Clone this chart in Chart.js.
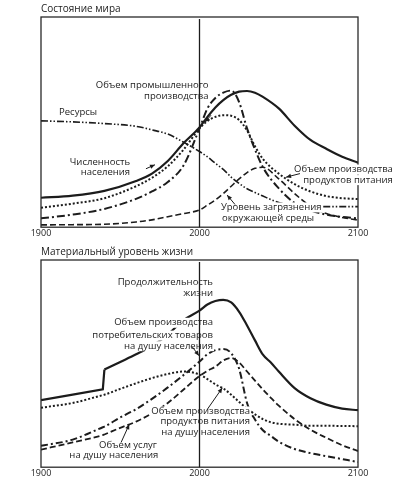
<!DOCTYPE html>
<html>
<head>
<meta charset="utf-8">
<script src="https://cdn.jsdelivr.net/npm/chart.js@4/dist/chart.umd.min.js"></script>
<style>
  body { margin: 0; background: #fff; }
  .box { position: relative; width: 398px; }
</style>
</head>
<body>
<div class="box" style="height:243px"><canvas id="worldChart"></canvas></div>
<div class="box" style="height:247px"><canvas id="livingChart"></canvas></div>
<script>
// upper panel: state of the world (relative scale 0..100)
const yearsWorld = [1900, 1920, 1940, 1960, 1970, 1980, 1990, 2000, 2005, 2010, 2015, 2020, 2025, 2030, 2035, 2040, 2050, 2060, 2070, 2080, 2090, 2100];
const population = [14.0, 15.0, 17.3, 22.0, 25.5, 31.5, 40.0, 47.5, 52.5, 57.0, 60.5, 63.0, 64.5, 64.8, 64.0, 62.0, 56.5, 48.3, 41.5, 37.3, 33.5, 30.7];
const industrialOutput = [4.2, 6.0, 8.7, 13.5, 17.0, 21.5, 29.5, 47.0, 56.5, 61.5, 64.0, 65.0, 59.5, 47.0, 37.0, 28.5, 18.5, 11.5, 8.0, 6.0, 4.9, 4.2];
const foodOutput = [9.3, 11.2, 13.8, 19.5, 23.5, 29.0, 37.0, 47.0, 50.5, 52.5, 53.3, 53.0, 51.0, 46.0, 38.5, 32.5, 25.5, 20.5, 17.0, 14.8, 13.8, 13.4];
const resources = [50.6, 50.1, 49.3, 48.0, 46.3, 44.3, 40.4, 36.0, 33.5, 30.4, 27.5, 23.8, 20.8, 18.3, 16.5, 14.8, 11.8, 10.4, 10.0, 9.8, 9.8, 9.8];
const pollution = [1.1, 1.2, 1.4, 2.5, 3.5, 5.0, 6.5, 8.2, 10.5, 13.0, 16.0, 19.5, 23.0, 26.0, 28.0, 28.5, 23.0, 16.0, 10.0, 6.5, 4.6, 3.4];

// lower panel: material standard of living
const yearsLiving = [1900, 1920, 1939, 1940, 1950, 1960, 1970, 1980, 1990, 2000, 2005, 2010, 2015, 2020, 2025, 2030, 2035, 2040, 2045, 2050, 2060, 2070, 2080, 2090, 2100];
const lifeExpectancy = [32.4, 35.0, 37.6, 47.1, 50.8, 54.5, 58.5, 64.0, 71.0, 75.6, 78.5, 80.2, 80.8, 79.5, 75.0, 68.4, 61.2, 54.3, 50.5, 46.2, 38.2, 33.3, 30.2, 28.3, 27.5];
const goodsPerCapita = [10.3, 13.3, 19.3, 19.6, 24.0, 28.0, 33.0, 38.5, 44.5, 51.0, 54.5, 56.5, 57.0, 55.0, 47.5, 31.0, 23.0, 17.8, 15.1, 12.3, 8.8, 6.8, 5.3, 3.9, 2.5];
const servicesPerCapita = [8.5, 12.0, 15.5, 15.8, 19.0, 22.0, 26.0, 31.0, 37.5, 44.0, 46.5, 48.5, 51.5, 52.7, 50.5, 46.2, 41.8, 37.5, 33.5, 29.7, 23.2, 18.1, 14.2, 10.6, 7.8];
const foodPerCapita = [28.7, 31.0, 34.8, 35.0, 37.8, 40.5, 43.0, 45.0, 46.2, 44.7, 42.5, 40.0, 38.0, 35.0, 31.5, 28.3, 25.5, 23.2, 21.7, 21.0, 20.5, 20.0, 20.0, 19.9, 19.8];

const tickYears = [1900, 2000, 2100];
const markYear = 2000;
const lifeStepIndex = 3; // life expectancy jumps between 1939 and 1940

const ink = '#1c1c1c';
const font = '"Open Sans", "DejaVu Sans", sans-serif';

function series(years, values, dash, width, smooth = true) {
    return {
        data: years.map((x, i) => ({ x: x, y: values[i] })),
        borderColor: ink,
        borderWidth: width,
        borderDash: dash,
        pointRadius: 0,
        fill: false,
        tension: 0,
        cubicInterpolationMode: smooth ? 'monotone' : 'default'
    };
}

// labels and leader arrows, placed in data units
function notesPlugin(labels, arrows) {
    return {
        id: 'notes',
        afterDatasetsDraw(chart) {
            const ctx = chart.ctx;
            const a = chart.chartArea;
            const sx = chart.scales.x, sy = chart.scales.y;
            ctx.save();
            ctx.strokeStyle = '#2a2a2a';
            ctx.lineWidth = 1.3;
            ctx.strokeRect(a.left, a.top, a.right - a.left, a.bottom - a.top);

            ctx.font = '9.5px ' + font;
            ctx.textBaseline = 'middle';
            labels.forEach(l => {
                const x = sx.getPixelForValue(l[1]);
                const y = sy.getPixelForValue(l[2]);
                const w = ctx.measureText(l[0]).width;
                const left = l[3] === 'right' ? x - w : l[3] === 'center' ? x - w / 2 : x;
                ctx.fillStyle = '#fff';
                ctx.fillRect(left - 1, y - 5, w + 2, 10);
                ctx.fillStyle = ink;
                ctx.textAlign = 'left';
                ctx.fillText(l[0], left, y);
            });

            const mx = sx.getPixelForValue(markYear);
            ctx.beginPath();
            ctx.moveTo(mx, a.top + 2);
            ctx.lineTo(mx, a.bottom);
            ctx.strokeStyle = ink;
            ctx.lineWidth = 1.3;
            ctx.stroke();

            arrows.forEach(r => {
                const x1 = sx.getPixelForValue(r[0]), y1 = sy.getPixelForValue(r[1]);
                const x2 = sx.getPixelForValue(r[2]), y2 = sy.getPixelForValue(r[3]);
                const ang = Math.atan2(y2 - y1, x2 - x1);
                ctx.beginPath();
                ctx.moveTo(x1, y1);
                ctx.lineTo(x2, y2);
                ctx.lineWidth = 1;
                ctx.stroke();
                ctx.beginPath();
                ctx.moveTo(x2, y2);
                ctx.lineTo(x2 - 5 * Math.cos(ang) + 2.2 * Math.sin(ang), y2 - 5 * Math.sin(ang) - 2.2 * Math.cos(ang));
                ctx.lineTo(x2 - 5 * Math.cos(ang) - 2.2 * Math.sin(ang), y2 - 5 * Math.sin(ang) + 2.2 * Math.cos(ang));
                ctx.closePath();
                ctx.fillStyle = ink;
                ctx.fill();
            });
            ctx.restore();
        }
    };
}

function baseOptions(title, bottomPad) {
    return {
        responsive: true,
        maintainAspectRatio: false,
        animation: false,
        layout: { padding: { left: 41, right: 40, top: 0, bottom: bottomPad } },
        plugins: {
            legend: { display: false },
            tooltip: { enabled: false },
            title: {
                display: true,
                text: title,
                align: 'start',
                color: ink,
                font: { family: font, size: 10, weight: 'normal' },
                padding: { top: 3, bottom: 2 }
            }
        },
        scales: {
            x: {
                type: 'linear',
                min: 1900,
                max: 2100,
                grid: { display: false, drawTicks: false },
                border: { display: false },
                ticks: {
                    color: ink,
                    font: { family: font, size: 9 },
                    padding: 1,
                    autoSkip: false,
                    maxRotation: 0,
                    callback: v => String(v)
                },
                afterBuildTicks: s => { s.ticks = tickYears.map(v => ({ value: v })); }
            },
            y: { display: false, min: 0, max: 100 }
        }
    };
}

new Chart(document.getElementById('worldChart'), {
    type: 'line',
    data: {
        datasets: [
            series(yearsWorld, pollution, [6, 3], 1.6),
            series(yearsWorld, resources, [7, 2, 1.5, 2, 1.5, 2], 1.6),
            series(yearsWorld, foodOutput, [2, 2], 2),
            series(yearsWorld, industrialOutput, [8, 3, 2, 3], 2),
            series(yearsWorld, population, [], 2.2)
        ]
    },
    options: baseOptions('Состояние мира', 3),
    plugins: [notesPlugin([
        ['Объем промышленного', 2005.7, 67.5, 'right'],
        ['производства', 2005.7, 62.5, 'right'],
        ['Ресурсы', 1911.4, 54.5, 'left'],
        ['Численность', 1956.2, 30.9, 'right'],
        ['населения', 1956.2, 26.2, 'right'],
        ['Объем производства', 2122, 27.4, 'right'],
        ['продуктов питания', 2122, 22.4, 'right'],
        ['Уровень загрязнения', 2013.5, 9.4, 'left'],
        ['окружающей среды', 2014.2, 4.2, 'left']
    ], [
        [2007.3, 53.3, 2003.5, 50.0],
        [1966.2, 27.8, 1971.9, 29.7],
        [2063.4, 25.5, 2054.6, 23.8],
        [2022.4, 10.8, 2017.4, 15.3]
    ])]
});

new Chart(document.getElementById('livingChart'), {
    type: 'line',
    data: {
        datasets: [
            series(yearsLiving, servicesPerCapita, [6, 3], 1.8),
            series(yearsLiving, foodPerCapita, [2, 2], 2),
            series(yearsLiving, goodsPerCapita, [7, 3, 2, 3], 2),
            // life expectancy: straight up to the 1940 jump, smooth afterwards
            series(yearsLiving.slice(0, lifeStepIndex + 1), lifeExpectancy.slice(0, lifeStepIndex + 1), [], 2.2, false),
            series(yearsLiving.slice(lifeStepIndex), lifeExpectancy.slice(lifeStepIndex), [], 2.2)
        ]
    },
    options: baseOptions('Материальный уровень жизни', 10),
    plugins: [notesPlugin([
        ['Продолжительность', 2008.5, 89.2, 'right'],
        ['жизни', 2008.5, 83.9, 'right'],
        ['Объем производства', 2008.5, 69.7, 'right'],
        ['потребительских товаров', 2008.5, 63.5, 'right'],
        ['на душу населения', 2008.5, 58.4, 'right'],
        ['Объем производства', 2031.9, 26.9, 'right'],
        ['продуктов питания', 2031.9, 22.1, 'right'],
        ['на душу населения', 2031.9, 16.8, 'right'],
        ['Объем услуг', 1936.6, 10.6, 'left'],
        ['на душу населения', 1917.9, 5.8, 'left']
    ], [
        [1995.3, 58.2, 1999.7, 53.8],
        [2004.9, 27.9, 2014.4, 38.3],
        [1950.5, 11.9, 1955.7, 20.7]
    ])]
});
</script>
</body>
</html>
